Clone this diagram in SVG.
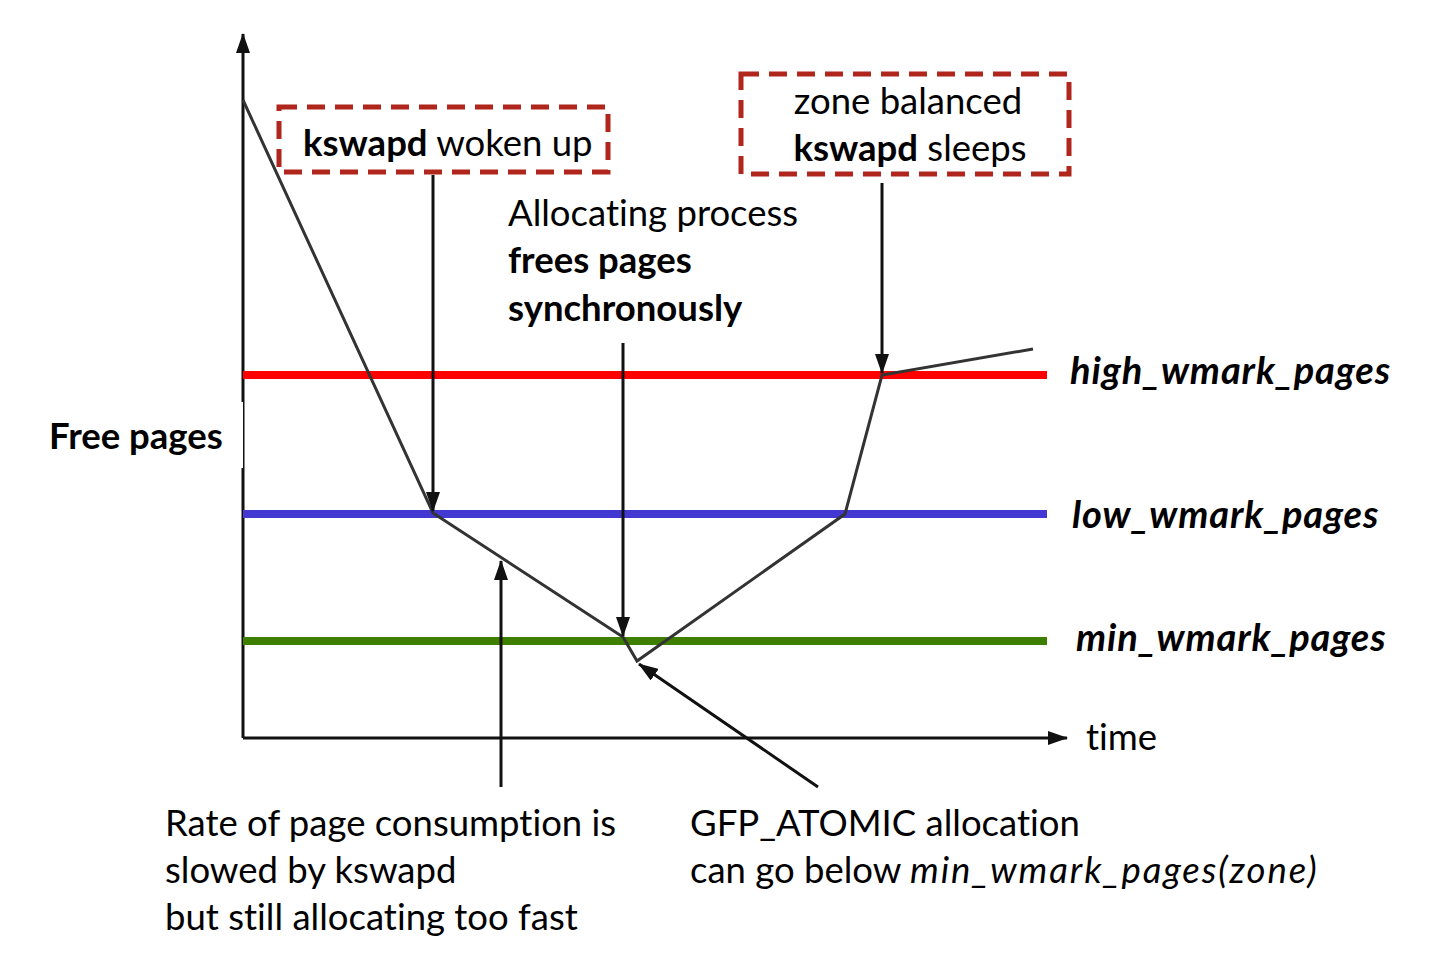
<svg xmlns="http://www.w3.org/2000/svg" width="1444" height="962" viewBox="0 0 1444 962">
<style>
text{font-family:Lato,"Open Sans","Liberation Sans",sans-serif;font-size:36.5px;fill:#000;font-variant-ligatures:none}
.b{font-weight:bold}
.bi{font-weight:bold;font-style:italic;font-size:38px;letter-spacing:0.9px}
.i{font-style:italic;letter-spacing:1.9px}
.ln{stroke:#333;stroke-width:3;fill:none}
.box{fill:none;stroke:#b0251c;stroke-width:5;stroke-dasharray:18 10}
.ar{stroke:#111;stroke-width:3}
</style>
<defs>
<marker id="ah2" viewBox="0 0 20 14" refX="19" refY="7" markerWidth="20" markerHeight="14" orient="auto" markerUnits="userSpaceOnUse">
<path d="M0,0 L20,7 L0,14 z" fill="#111"/>
</marker>
</defs>
<rect width="1444" height="962" fill="#fff"/>
<g id="axes">
<line class="ar" x1="243" y1="738" x2="243" y2="34" marker-end="url(#ah2)"/>
<line class="ar" x1="243" y1="738" x2="1067" y2="738" marker-end="url(#ah2)"/>
</g>
<g id="wmarks">
<line x1="243" y1="375" x2="1047" y2="375" stroke="#ff0000" stroke-width="8"/>
<line x1="243" y1="514" x2="1047" y2="514" stroke="#4338d1" stroke-width="8"/>
<line x1="243" y1="641" x2="1047" y2="641" stroke="#3f7f00" stroke-width="8"/>
</g>
<g id="curve">
<polyline class="ln" points="243,100 433,513 623,637 637,661 845,514 882,375 1033,349"/>
</g>
<g id="free-pages-label">
<rect x="40" y="402" width="203" height="66" fill="#fff"/>
<text x="49" y="449" class="b">Free pages</text>
</g>
<g id="kswapd-woken">
<rect class="box" x="279" y="107" width="329" height="65"/>
<text x="303" y="156"><tspan class="b">kswapd</tspan> woken up</text>
</g>
<g id="kswapd-sleeps">
<rect class="box" x="741" y="74" width="328" height="100"/>
<text x="908" y="114" text-anchor="middle">zone balanced</text>
<text x="910" y="161" text-anchor="middle"><tspan class="b">kswapd</tspan> sleeps</text>
</g>
<g id="alloc-label">
<text x="508" y="226">Allocating process</text>
<text x="508" y="273" class="b">frees pages</text>
<text x="508" y="321" class="b">synchronously</text>
</g>
<g id="wmark-labels">
<text x="1070" y="384" class="bi">high_wmark_pages</text>
<text x="1072" y="528" class="bi">low_wmark_pages</text>
<text x="1076" y="651" class="bi">min_wmark_pages</text>
<text x="1086" y="750">time</text>
</g>
<g id="rate-label">
<text x="165" y="836">Rate of page consumption is</text>
<text x="165" y="883">slowed by kswapd</text>
<text x="165" y="930">but still allocating too fast</text>
</g>
<g id="gfp-label">
<text x="690" y="836">GFP_ATOMIC allocation</text>
<text x="690" y="883">can go below <tspan class="i">min_wmark_pages(zone)</tspan></text>
</g>
<g id="connectors">
<line class="ar" x1="433" y1="175" x2="433" y2="511" marker-end="url(#ah2)"/>
<line class="ar" x1="623" y1="343" x2="623" y2="636" marker-end="url(#ah2)"/>
<line class="ar" x1="882" y1="183" x2="882" y2="373" marker-end="url(#ah2)"/>
<line class="ar" x1="501" y1="787" x2="501" y2="561" marker-end="url(#ah2)"/>
<line class="ar" x1="818" y1="787" x2="639" y2="664" marker-end="url(#ah2)"/>
</g>
</svg>
